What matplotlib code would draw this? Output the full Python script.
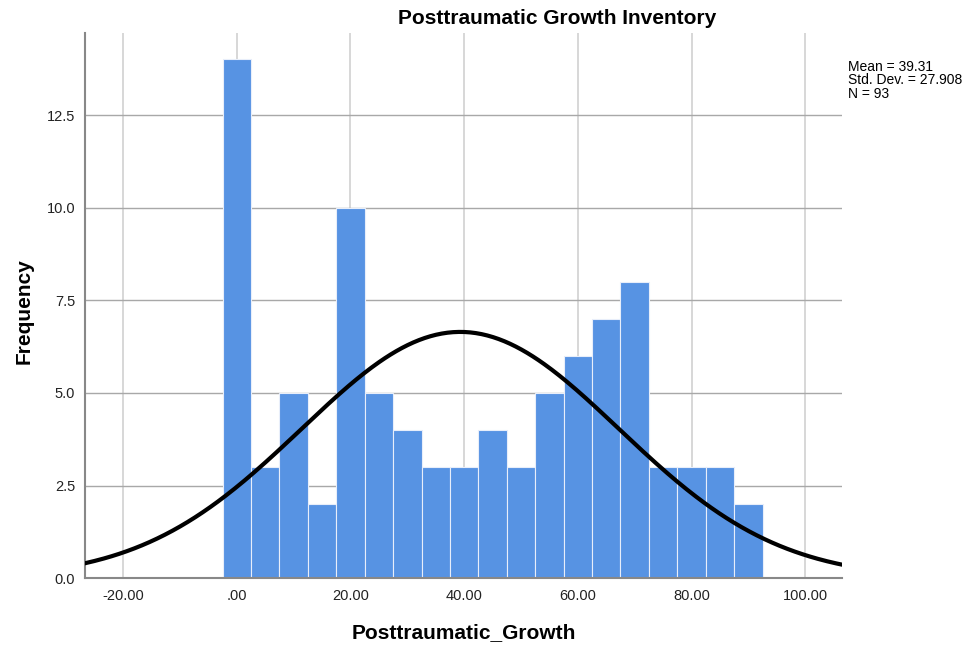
import numpy as np
import matplotlib.pyplot as plt

plt.rcParams.update({
    'font.family': ['Liberation Sans', 'DejaVu Sans'],
    'font.size': 10,
})

# histogram bins (centres) and counts
bin_centers = [0, 5, 10, 15, 20, 25, 30, 35, 40, 45, 50, 55, 60, 65, 70, 75, 80, 85, 90]
counts = [14, 3, 5, 2, 10, 5, 4, 3, 3, 4, 3, 5, 6, 7, 8, 3, 3, 3, 2]
bin_width = 5

mean = 39.31
std = 27.908
n = 93

xticks = [-20, 0, 20, 40, 60, 80, 100]
xtick_labels = ['-20.00', '.00', '20.00', '40.00', '60.00', '80.00', '100.00']
yticks = [0.0, 2.5, 5.0, 7.5, 10.0, 12.5]

fig = plt.figure(figsize=(9.77, 6.49), dpi=100)
ax = fig.add_axes([0.087, 0.109, 0.775, 0.840])

xlo, xhi = -26.7, 106.5
ax.set_xlim(xlo, xhi)
ax.set_ylim(0, 14.71)

# grid: light vertical, darker horizontal
for x in xticks:
    ax.axvline(x, color='#d4d4d4', lw=1.3, zorder=0)
for y in yticks[1:]:
    ax.axhline(y, color='#a8a8a8', lw=1.0, zorder=0)

ax.bar(bin_centers, counts, width=bin_width, color='#5793e3',
       edgecolor='#e8eefa', linewidth=0.8, zorder=2)

# normal curve scaled to counts
xs = np.linspace(xlo, xhi, 400)
ys = n * bin_width * np.exp(-0.5 * ((xs - mean) / std) ** 2) / (std * np.sqrt(2 * np.pi))
ax.plot(xs, ys, color='black', lw=3, zorder=3)

ax.set_xticks(xticks)
ax.set_xticklabels(xtick_labels)
ax.set_yticks(yticks)
ax.set_yticklabels([f'{v:.1f}' for v in yticks])
ax.tick_params(axis='x', length=0, labelsize=10.5, pad=8, colors='#222222')
ax.tick_params(axis='y', length=0, labelsize=10.5, pad=7, colors='#222222')

for s in ['top', 'right']:
    ax.spines[s].set_visible(False)
for s in ['left', 'bottom']:
    ax.spines[s].set_color('#888888')
    ax.spines[s].set_linewidth(1.5)

fig.text(557 / 977, 1 - 18 / 649, 'Posttraumatic Growth Inventory',
         fontsize=15, fontweight='bold', ha='center', va='center')
ax.set_xlabel('Posttraumatic_Growth', fontsize=15, fontweight='bold')
ax.xaxis.set_label_coords(0.5, -0.082)
ax.set_ylabel('Frequency', fontsize=15, fontweight='bold')
ax.yaxis.set_label_coords(-0.068, 0.49)

fig.text(0.868, 0.908, f'Mean = {mean}\nStd. Dev. = {std}\nN = {n}',
         fontsize=10, va='top', ha='left', linespacing=0.98)

fig.savefig('out.png', dpi=100)
